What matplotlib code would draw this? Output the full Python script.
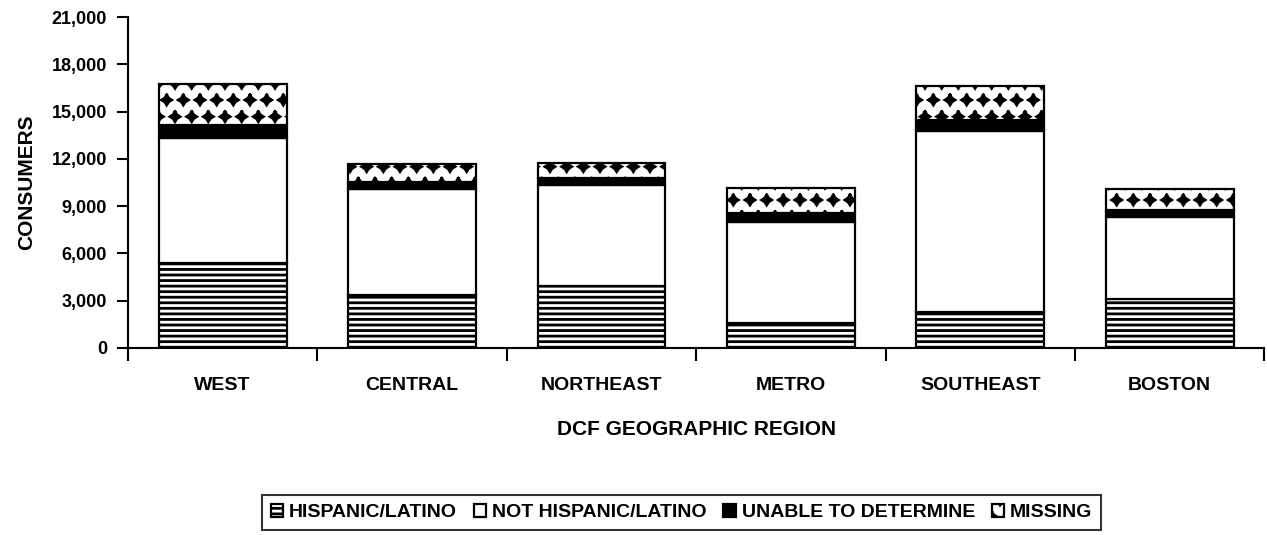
import matplotlib
matplotlib.use('Agg')
import matplotlib.pyplot as plt
import matplotlib.hatch as mhatch
from matplotlib.path import Path
import numpy as np

# Consumers by DCF region and ethnicity
regions = ['WEST', 'CENTRAL', 'NORTHEAST', 'METRO', 'SOUTHEAST', 'BOSTON']
hispanic = [5390, 3320, 3950, 1570, 2240, 3090]
not_hispanic = [7960, 6770, 6390, 6440, 11530, 5240]
unable = [800, 460, 430, 570, 700, 430]
missing = [2600, 1110, 950, 1550, 2150, 1330]

series = [
    ('HISPANIC/LATINO', hispanic, 'white', '---'),
    ('NOT HISPANIC/LATINO', not_hispanic, 'white', None),
    ('UNABLE TO DETERMINE', unable, 'black', None),
    ('MISSING', missing, 'white', '*'),
]


# '*' hatch drawn as 4-point diamonds instead of 5-point stars
class DiamondHatch(mhatch.Shapes):
    size = 0.3
    filled = True

    def __init__(self, hatch, density):
        self.num_rows = hatch.count('*') * density
        path = Path.unit_regular_star(4, 0.55)
        self.shape_vertices = path.vertices
        self.shape_codes = np.full(len(self.shape_vertices), Path.LINETO,
                                   dtype=Path.code_type)
        self.shape_codes[0] = Path.MOVETO
        super().__init__(hatch, density)


mhatch._hatch_types = [DiamondHatch if t is mhatch.Stars else t
                       for t in mhatch._hatch_types]

plt.rcParams['font.family'] = ['Liberation Sans', 'DejaVu Sans']
plt.rcParams['font.weight'] = 'bold'
plt.rcParams['axes.labelweight'] = 'bold'
plt.rcParams['hatch.linewidth'] = 2.0
plt.rcParams['hatch.color'] = 'black'

fig = plt.figure(figsize=(12.67, 5.35), dpi=100)
ax = fig.add_axes([0.101, 0.35, 0.897, 0.618])

x = np.arange(len(regions))
bottom = np.zeros(len(regions))
for label, vals, face, hatch in series:
    ax.bar(x, vals, width=0.675, bottom=bottom, color=face, edgecolor='black',
           linewidth=1.6, hatch=hatch, label=label)
    bottom += np.array(vals)

ax.set_xlim(-0.5, len(regions) - 0.5)
ax.set_ylim(0, 21000)
ax.set_yticks(range(0, 21001, 3000))
ax.set_yticklabels([f'{v:,}' for v in range(0, 21001, 3000)], fontsize=13)

# boundary ticks, labels centred on categories
ax.set_xticks(np.arange(-0.5, len(regions)))
ax.set_xticklabels([])
ax.set_xticks(x, minor=True)
ax.set_xticklabels(regions, minor=True, fontsize=14)
ax.tick_params(axis='x', which='minor', length=0, pad=21)
ax.tick_params(axis='x', which='major', length=9, width=1.5)
ax.tick_params(axis='y', length=8, width=1.5, pad=7)

for s in ['top', 'right']:
    ax.spines[s].set_visible(False)
for s in ['left', 'bottom']:
    ax.spines[s].set_linewidth(1.5)

ax.set_ylabel('CONSUMERS', fontsize=15, labelpad=11)
ax.set_xlabel('DCF GEOGRAPHIC REGION', fontsize=15, labelpad=19)

leg = fig.legend(loc='upper center', bbox_to_anchor=(0.538, 0.075), ncol=4,
                 fontsize=14, frameon=True, fancybox=False, edgecolor='black',
                 handlelength=0.65, handleheight=0.65, handletextpad=0.3,
                 columnspacing=0.85, borderpad=0.45, borderaxespad=0)
leg.get_frame().set_linewidth(1.5)

fig.savefig('out.png', dpi=100)
